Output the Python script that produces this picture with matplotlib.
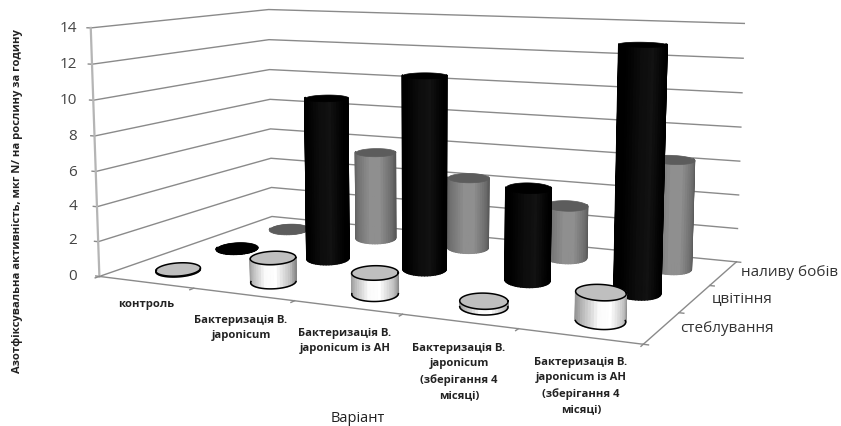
import numpy as np
import matplotlib
matplotlib.use("Agg")
import matplotlib.pyplot as plt
from mpl_toolkits.mplot3d.art3d import Poly3DCollection

W, H = 841, 426

categories = ["контроль", "Бактеризація B.\njaponicum", "Бактеризація B.\njaponicum із АН",
              "Бактеризація B.\njaponicum\n(зберігання 4\nмісяці)",
              "Бактеризація B.\njaponicum із АН\n(зберігання 4\nмісяці)"]
series_names = ["стеблування", "цвітіння", "наливу бобів"]
stem_values = [0.05, 1.35, 1.15, 0.3, 1.45]
flower_values = [0.03, 9.6, 11.2, 5.25, 13.4]
pod_values = [0.03, 5.5, 4.35, 3.15, 6.35]
value_ticks = [0, 2, 4, 6, 8, 10, 12, 14]

# camera and box proportions of the 3D scene
ELEV, AZIM = 8.8016, -64.8890
ZOOM = np.exp(0.9070)
BOX = (1, 0.5935, 0.4419)
S, CX, CY = 271.6776, 420.8792, 152.5394

plt.rcParams["font.family"] = ["Open Sans", "DejaVu Sans"]
fig = plt.figure(figsize=(W / 100, H / 100), dpi=100)
ax = fig.add_subplot(projection="3d")
ax.set_proj_type("persp")
ax.view_init(elev=ELEV, azim=AZIM)
ax.set_box_aspect(BOX, zoom=ZOOM)
ax.set_position([(CX - S / 2) / W, (H - CY - S / 2) / H, S / W, S / H])
ax.set_axis_off()
ax.computed_zorder = False

# base ellipse half-axes in box units: across and along the line of sight
across, along = 0.0395, 0.052
az = np.radians(AZIM)
ring = np.linspace(0, 2 * np.pi, 121)
# the wall is built only on the side facing the camera
wall = np.linspace(-0.12, np.pi + 0.12, 27)


def base_ring(x0, y0, angle):
    """Base outline around a bar centre, in category and series units; angle 0 faces right."""
    wx = across * np.cos(angle) * -np.sin(az) + along * np.sin(angle) * np.cos(az)
    wy = across * np.cos(angle) * np.cos(az) + along * np.sin(angle) * np.sin(az)
    return x0 + 5 * wx, y0 + 3 / BOX[1] * wy


def shade(stops):
    t = np.cos(0.5 * (wall[:-1] + wall[1:]))
    g = np.interp(t, [-1, -0.8, -0.2, 0.2, 0.8, 1], stops)
    return np.c_[g, g, g, np.ones_like(g)]


styles = {
    0: dict(stops=[.58, .72, .98, 1, .75, .52], cap=".75", outline=True),
    1: dict(stops=[0, 0, .05, .07, 0, 0], cap="0", outline=False),
    2: dict(stops=[.38, .45, .56, .56, .42, .33], cap=".36", outline=False),
}
all_values = [stem_values, flower_values, pod_values]

for s in (2, 1, 0):
    st = styles[s]
    for c, v in enumerate(all_values[s]):
        x0, y0 = c + 0.5, s + 0.5
        Xw, Yw = base_ring(x0, y0, wall)
        X, Y = base_ring(x0, y0, ring)
        z_order = 10 + (2 - s) * 10 + c
        ax.plot_surface(np.vstack([Xw, Xw]), np.vstack([Yw, Yw]),
                        np.vstack([np.zeros_like(Xw), np.full_like(Xw, v)]),
                        facecolors=shade(st["stops"])[None, :, :], rstride=1, cstride=1,
                        shade=False, linewidth=1.0, zorder=z_order)
        # rounded foot of the bar, drawn below the wall
        foot = Poly3DCollection([list(zip(X, Y, np.zeros_like(X)))],
                                facecolors=".5" if s == 0 else st["cap"],
                                edgecolors="none", zorder=z_order - .1)
        ax.add_collection3d(foot)
        cap = Poly3DCollection([list(zip(X, Y, np.full_like(X, v)))], facecolors=st["cap"],
                               edgecolors=st["cap"], linewidths=0.5, zorder=z_order + .1)
        ax.add_collection3d(cap)
        if st["outline"]:
            ax.plot(X, Y, np.full_like(X, v), color="k", lw=1.1, zorder=z_order + .2)
            # only the near half of the base rim is visible
            Xf, Yf = base_ring(x0, y0, np.linspace(0, np.pi, 40))
            ax.plot(Xf, Yf, 0 * Xf, color="k", lw=1.1, zorder=z_order + .2)

grid = "#8a8a8a"
for z in value_ticks:
    ax.plot([0, 0, 5], [0, 3, 3], [z, z, z], color=grid, lw=1.0, zorder=2)
    ax.plot([-0.04, 0], [0, 0], [z, z], color=grid, lw=1.0, zorder=2)
ax.plot([0, 0], [0, 0], [0, 14], color="#b5b5b5", lw=1.6, zorder=3)
ax.plot([0, 5, 5], [0, 0, 3], [0, 0, 0], color=grid, lw=1.0, zorder=3)
for c in range(6):
    ax.plot([c, c], [0, -0.06], [0, 0], color=grid, lw=1.0, zorder=3)
for s in range(4):
    ax.plot([5, 5.04], [s, s], [0, 0], color=grid, lw=1.0, zorder=3)

ax.set_xlim(0, 5, view_margin=0)
ax.set_ylim(0, 3, view_margin=0)
ax.set_zlim(0, 14, view_margin=0)
for artist in ax.get_children():
    artist.set_clip_on(False)


def px(x, y, text, **kw):
    fig.text(x / W, 1 - y / H, text, **kw)


tick_y = [277, 241, 207, 172, 136, 100, 64, 29]
for z, y in zip(value_ticks, tick_y):
    px(77, y, str(z), ha="right", va="center", fontsize=11, color="#444444")

label_xy = [(146, 305), (241, 328), (345, 341), (459, 372), (581, 386)]
for name, (x, y) in zip(categories, label_xy):
    px(x, y, name, ha="center", va="center", fontsize=8.1, fontweight="bold",
       color="#222222", linespacing=1.55)

for name, (x, y) in zip(series_names, [(680, 329), (712, 299), (741, 273)]):
    px(x, y, name, ha="left", va="center", fontsize=11, color="#333333")

px(358, 418, "Варіант", ha="center", va="center", fontsize=10.5, color="#222222")
px(17, 201, "Азотфіксувальна активність, мкг N/ на рослину за годину", rotation=90,
   ha="center", va="center", fontsize=8.1, fontweight="bold", color="#222222")

fig.savefig("out.png", dpi=100)
